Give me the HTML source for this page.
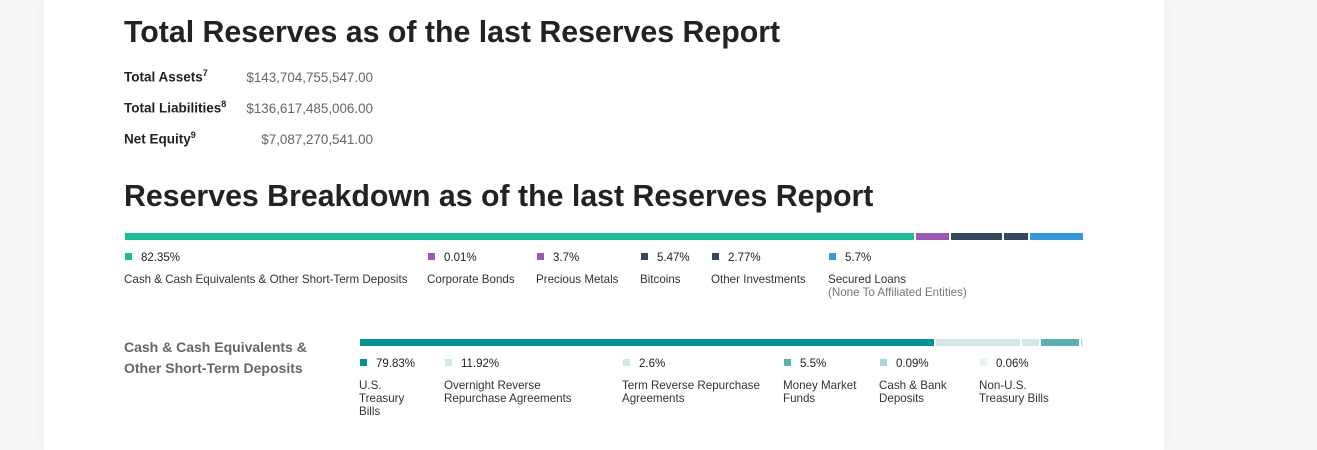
<!DOCTYPE html>
<html><head><meta charset="utf-8"><style>
*{margin:0;padding:0;box-sizing:border-box}
body{width:1317px;height:450px;background:#f7f8f8;font-family:"Liberation Sans",sans-serif;position:relative;overflow:hidden;color:#222}
#card{position:absolute;left:44px;top:0;width:1120px;height:450px;background:#fff;box-shadow:0 0 12px rgba(0,0,0,0.05)}
.abs{position:absolute;white-space:nowrap}
h1{position:absolute;left:124px;font-size:30.3px;font-weight:bold;color:#222;white-space:nowrap}
.lbl{font-size:13.5px;font-weight:bold;color:#222}
.lbl sup{font-size:9px}
.val{font-size:13.4px;color:#666;text-align:right;width:200px}
.pct{font-size:11.5px;color:#222}
.sq{position:absolute;width:7px;height:7px}
.cap{font-size:11.6px;color:#333;line-height:13px}
.sub{color:#777}
.side{font-size:14px;font-weight:bold;color:#666;line-height:21px}
</style></head><body>
<div id="card"></div>
<h1 style="top:16px">Total Reserves as of the last Reserves Report</h1>
<div class="abs lbl" style="left:124px;top:68px">Total Assets<sup>7</sup></div>
<div class="abs val" style="left:173px;top:70px">$143,704,755,547.00</div>
<div class="abs lbl" style="left:124px;top:99px">Total Liabilities<sup>8</sup></div>
<div class="abs val" style="left:173px;top:101px">$136,617,485,006.00</div>
<div class="abs lbl" style="left:124px;top:130px">Net Equity<sup>9</sup></div>
<div class="abs val" style="left:173px;top:132px">$7,087,270,541.00</div>
<h1 style="top:180px">Reserves Breakdown as of the last Reserves Report</h1>
<div class="abs side" style="left:124px;top:337px">Cash &amp; Cash Equivalents &amp;<br>Other Short-Term Deposits</div>
<div id="chart1"></div>
<div id="chart2"></div>
<script>
const cats1=["Cash & Cash Equivalents & Other Short-Term Deposits","Corporate Bonds","Precious Metals","Bitcoins","Other Investments","Secured Loans"];
const subs1=["","","","","","(None To Affiliated Entities)"];
const vals1=[82.35,0.01,3.7,5.47,2.77,5.7];
const cols1=["#1abc9c","#9b59b6","#9b59b6","#34495e","#34495e","#3498db"];
const legX1=[125,428,537,641,712,829];
const cats2=["U.S.<br>Treasury<br>Bills","Overnight Reverse<br>Repurchase Agreements","Term Reverse Repurchase<br>Agreements","Money Market<br>Funds","Cash & Bank<br>Deposits","Non-U.S.<br>Treasury Bills"];
const vals2=[79.83,11.92,2.6,5.5,0.09,0.06];
const cols2=["#009393","#d2e9e9","#d2e9e9","#5cb0b0","#a9d6d6","#e6f3f3"];
const legX2=[360,445,623,784,880,980];
function draw(host,cats,subs,vals,cols,legX,x0,w,by,py,ly,nm){
  const tot=vals.reduce((a,b)=>a+b,0);let x=x0;
  vals.forEach((v,i)=>{
    const sw=v/tot*w;
    const b=document.createElement('div');
    
    
    b.style.cssText=`position:absolute;left:${x}px;top:${by}px;width:${Math.max(sw-2,1)}px;height:7px;background:${cols[i]}`;
    host.appendChild(b);x+=sw;
    const s=document.createElement('div');s.className='sq';
    
    
    s.style.cssText+=`left:${legX[i]}px;top:${py-4}px;background:${cols[i]}`;host.appendChild(s);
    const p=document.createElement('div');p.className='abs pct';
    
    
    p.style.cssText+=`left:${legX[i]+16}px;top:${py-5}px`;p.textContent=v+'%';host.appendChild(p);
    const c=document.createElement('div');c.className='abs cap';
    
    
    c.style.cssText+=`left:${legX[i]-1}px;top:${ly-5}px`;
    c.innerHTML=cats[i].replace(/&(?!amp)/g,'&amp;')+(subs&&subs[i]?'<br><span class="sub">'+subs[i]+'</span>':'');
    host.appendChild(c);
  });
}
draw(document.getElementById('chart1'),cats1,subs1,vals1,cols1,legX1,125,960,233,257,278,'reserves');
draw(document.getElementById('chart2'),cats2,null,vals2,cols2,legX2,360,722,339,363,384,'cash');
</script>
</body></html>
